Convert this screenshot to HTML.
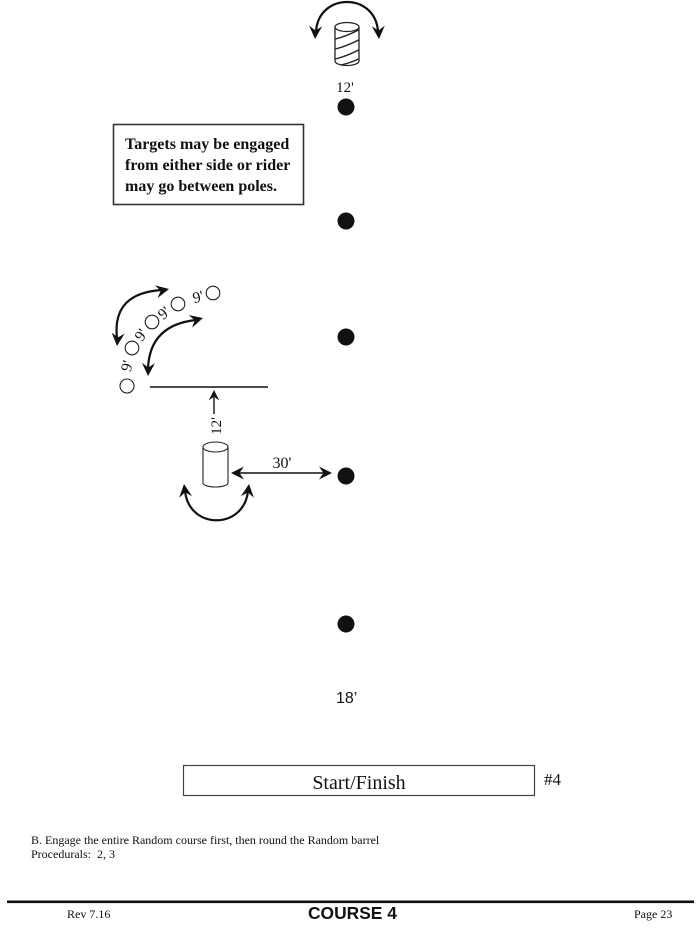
<!DOCTYPE html>
<html>
<head>
<meta charset="utf-8">
<style>
  html, body { margin: 0; padding: 0; background: #fff; }
  body { width: 700px; height: 930px; overflow: hidden; }
  svg { display: block; }
  .serif { font-family: "Liberation Serif", serif; }
  .sans { font-family: "Liberation Sans", sans-serif; }
</style>
</head>
<body>
<svg width="700" height="930" viewBox="0 0 700 930" xmlns="http://www.w3.org/2000/svg">
  <defs>
    <path id="ah" d="M0,0 L-13,-6.5 L-8.5,0 L-13,6.5 Z" fill="#111"/>
  </defs>

  <!-- Top barrel -->
  <g stroke="#222" stroke-width="1.3" fill="#fff">
    <path d="M335,27 L335,61 A12,4.5 0 0 0 359,61 L359,27" />
    <ellipse cx="347" cy="27" rx="12" ry="4.5"/>
  </g>
  <g stroke="#222" stroke-width="1.4" fill="none">
    <path d="M335.5,39 Q347,36 358.5,30"/>
    <path d="M335.5,49 Q347,46 358.5,40"/>
    <path d="M335.5,59 Q347,56 358.5,50"/>
    <path d="M341,65 Q350,63 358.5,59"/>
  </g>
  <path d="M316,32 C318,-8 376,-8 378,32" stroke="#111" stroke-width="2.2" fill="none"/>
  <use href="#ah" transform="translate(315,39) rotate(93)"/>
  <use href="#ah" transform="translate(379,39) rotate(87)"/>

  <text x="345" y="92" class="serif" font-size="15" text-anchor="middle" fill="#111">12'</text>

  <!-- Poles -->
  <g fill="#111">
    <circle cx="346" cy="107" r="8.5"/>
    <circle cx="346" cy="221" r="8.5"/>
    <circle cx="346" cy="337" r="8.5"/>
    <circle cx="346" cy="476" r="8.5"/>
    <circle cx="346" cy="624" r="8.5"/>
  </g>

  <!-- Note box -->
  <rect x="113.5" y="124.5" width="190" height="80" fill="none" stroke="#333" stroke-width="1.6"/>
  <g class="serif" font-weight="bold" font-size="16" fill="#111">
    <text x="125" y="149">Targets may be engaged</text>
    <text x="125" y="170">from either side or rider</text>
    <text x="125" y="191">may go between poles.</text>
  </g>

  <!-- Small targets -->
  <g fill="#fff" stroke="#222" stroke-width="1.1">
    <circle cx="127" cy="386" r="7"/>
    <circle cx="132" cy="348" r="6.8"/>
    <circle cx="152" cy="322" r="6.8"/>
    <circle cx="178" cy="304" r="6.8"/>
    <circle cx="213" cy="293" r="6.8"/>
  </g>
  <g class="serif" font-size="15.5" fill="#111" text-anchor="middle">
    <text transform="translate(127,366) rotate(-75)" y="5">9'</text>
    <text transform="translate(141,335) rotate(-55)" y="5">9'</text>
    <text transform="translate(164,313) rotate(-40)" y="5">9'</text>
    <text transform="translate(198,297) rotate(-15)" y="5">9'</text>
  </g>

  <!-- Curved arrows near targets -->
  <path d="M117,338 Q112,293 162,290" stroke="#111" stroke-width="2.2" fill="none"/>
  <use href="#ah" transform="translate(117,346) rotate(95)"/>
  <use href="#ah" transform="translate(169,289) rotate(-12)"/>

  <path d="M148,368 Q150,325 196,320" stroke="#111" stroke-width="2.2" fill="none"/>
  <use href="#ah" transform="translate(148,376) rotate(92)"/>
  <use href="#ah" transform="translate(203,318) rotate(-15)"/>

  <!-- Horizontal line -->
  <line x1="150" y1="387" x2="268" y2="387" stroke="#111" stroke-width="1.6"/>

  <!-- 12' up arrow -->
  <line x1="214" y1="414" x2="214" y2="396" stroke="#111" stroke-width="1.4"/>
  <use href="#ah" transform="translate(214,390) rotate(-90) scale(0.8)"/>
  <text transform="translate(221,426) rotate(-90)" class="serif" font-size="15" text-anchor="middle" fill="#111">12'</text>

  <!-- Random barrel -->
  <g stroke="#222" stroke-width="1.1" fill="#fff">
    <path d="M203,447 L203,483 A12.5,4 0 0 0 228,483 L228,447"/>
    <ellipse cx="215.5" cy="447" rx="12.5" ry="5"/>
  </g>

  <!-- 30' arrow -->
  <line x1="238" y1="473" x2="325" y2="473" stroke="#111" stroke-width="1.4"/>
  <use href="#ah" transform="translate(231,473) rotate(180)"/>
  <use href="#ah" transform="translate(332,473)"/>
  <text x="282" y="468" class="serif" font-size="16" text-anchor="middle" fill="#111">30'</text>

  <!-- U arrow under barrel -->
  <path d="M185,491 C189,530 244,530 248,491" stroke="#111" stroke-width="2.2" fill="none"/>
  <use href="#ah" transform="translate(184,484) rotate(-97)"/>
  <use href="#ah" transform="translate(249,484) rotate(-83)"/>

  <!-- 18' -->
  <text x="336" y="703" class="sans" font-size="16" fill="#111">18’</text>

  <!-- Start/Finish -->
  <rect x="183.5" y="765.5" width="351" height="30" fill="none" stroke="#444" stroke-width="1.2"/>
  <text x="359" y="789" class="serif" font-size="20" text-anchor="middle" fill="#111">Start/Finish</text>
  <text x="544" y="785" class="serif" font-size="17" fill="#111">#4</text>

  <!-- Notes -->
  <g class="serif" font-size="12" fill="#111">
    <text x="31" y="844">B. Engage the entire Random course first, then round the Random barrel</text>
    <text x="31" y="858">Procedurals:&#160; 2, 3</text>
  </g>

  <!-- Footer -->
  <rect x="7" y="900.5" width="687" height="2.6" fill="#111"/>
  <text x="67" y="918" class="serif" font-size="12" fill="#111">Rev 7.16</text>
  <text x="308" y="919" class="sans" font-size="17.4" font-weight="bold" fill="#111">COURSE 4</text>
  <text x="634" y="918" class="serif" font-size="12" fill="#111">Page 23</text>
</svg>
</body>
</html>
